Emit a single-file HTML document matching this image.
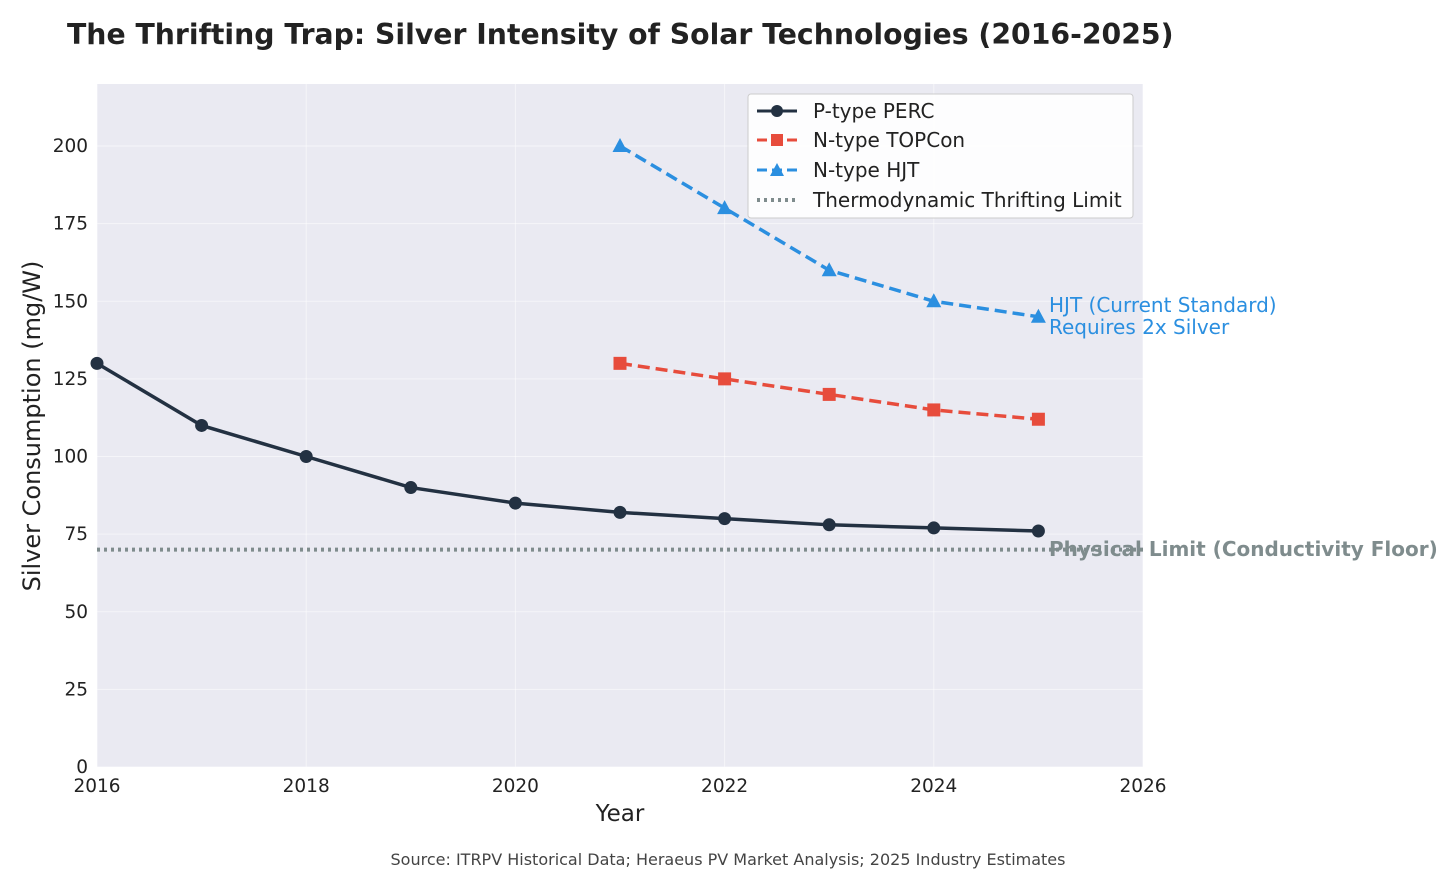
<!DOCTYPE html>
<html><head><meta charset="utf-8"><style>
body{margin:0;background:#fff;font-family:"DejaVu Sans","Liberation Sans",sans-serif}
</style></head><body>
<svg id="chart" width="1456" height="874" xmlns="http://www.w3.org/2000/svg" font-family="DejaVu Sans, Liberation Sans, sans-serif">
<rect width="1456" height="874" fill="#fff"/>
<text x="67" y="44" font-size="28.3" font-weight="bold" fill="#222">The Thrifting Trap: Silver Intensity of Solar Technologies (2016-2025)</text>
<rect x="97" y="84" width="1046" height="683" fill="#eaeaf2"/>
<g id="grid"></g><g id="ticks"></g><g id="series"></g>
<text x="620" y="821" font-size="23" text-anchor="middle" fill="#222">Year</text>
<text transform="translate(40,426) rotate(-90)" font-size="24" text-anchor="middle" fill="#222">Silver Consumption (mg/W)</text>
<text x="1049" y="312" font-size="20" fill="#2b8fe0">HJT (Current Standard)</text>
<text x="1049" y="334" font-size="20" fill="#2b8fe0">Requires 2x Silver</text>
<text x="1049" y="556" font-size="20" font-weight="bold" fill="#7f8c8d">Physical Limit (Conductivity Floor)</text>
<text x="728" y="865" font-size="16" text-anchor="middle" fill="#444">Source: ITRPV Historical Data; Heraeus PV Market Analysis; 2025 Industry Estimates</text>
<g>
<rect x="748" y="94" width="385" height="124" fill="#fff" fill-opacity="0.9" stroke="#ccc" rx="3"/>
<line x1="757" y1="111" x2="797" y2="111" stroke="#233142" stroke-width="3"/><circle cx="777" cy="111" r="6" fill="#233142"/>
<text x="813" y="118" font-size="20" fill="#222">P-type PERC</text>
<line x1="757" y1="140" x2="797" y2="140" stroke="#e74c3c" stroke-width="3" stroke-dasharray="10,5"/><rect x="771" y="134" width="12" height="12" fill="#e74c3c"/>
<text x="813" y="147" font-size="20" fill="#222">N-type TOPCon</text>
<line x1="757" y1="170" x2="797" y2="170" stroke="#2b8fe0" stroke-width="3" stroke-dasharray="10,5"/><polygon points="777,163 784,176 770,176" fill="#2b8fe0"/>
<text x="813" y="177" font-size="20" fill="#222">N-type HJT</text>
<line x1="757" y1="200" x2="797" y2="200" stroke="#7f8c8d" stroke-width="4" stroke-dasharray="3,4"/>
<text x="813" y="207" font-size="20" fill="#222">Thermodynamic Thrifting Limit</text>
</g>
</svg>
<script>
const years=[2016,2017,2018,2019,2020,2021,2022,2023,2024,2025];
const percValues=[130,110,100,90,85,82,80,78,77,76];
const nYears=[2021,2022,2023,2024,2025];
const topconValues=[130,125,120,115,112];
const hjtValues=[200,180,160,150,145];
const limitValue=70;
const xTicks=[2016,2018,2020,2022,2024,2026];
const yTicks=[0,25,50,75,100,125,150,175,200];
const NS="http://www.w3.org/2000/svg";
const X=v=>97+(v-2016)*104.6;
const Y=v=>767-v*3.105;
function mk(t,a,p){const e=document.createElementNS(NS,t);for(const k in a)e.setAttribute(k,a[k]);p.appendChild(e);return e;}
const grid=document.getElementById('grid'),ticks=document.getElementById('ticks'),ser=document.getElementById('series');
yTicks.forEach(v=>{const l=mk('line',{x1:97,x2:1143,y1:Y(v),y2:Y(v),stroke:'#fff','stroke-width':1,'stroke-opacity':0.5},grid);


const t=mk('text',{x:88,y:Y(v)+6,'font-size':18.5,'text-anchor':'end',fill:'#222'},ticks);t.textContent=v;

});
xTicks.forEach(v=>{const l=mk('line',{x1:X(v),x2:X(v),y1:84,y2:767,stroke:'#fff','stroke-width':1,'stroke-opacity':0.5},grid);


const t=mk('text',{x:X(v),y:792,'font-size':18.5,'text-anchor':'middle',fill:'#222'},ticks);t.textContent=v;

});
const lim=mk('line',{x1:97,x2:1143,y1:Y(limitValue),y2:Y(limitValue),stroke:'#7f8c8d','stroke-width':4,'stroke-dasharray':'3,4'},ser);


function series(xs,ys,color,dash,marker,name){
const p=mk('polyline',{points:xs.map((x,i)=>X(x)+','+Y(ys[i])).join(' '),fill:'none',stroke:color,'stroke-width':3.5,'stroke-dasharray':dash},ser);


xs.forEach((x,i)=>{const cx=X(x),cy=Y(ys[i]);let m;
if(marker==='o')m=mk('circle',{cx,cy,r:6.5,fill:color},ser);
else if(marker==='s')m=mk('rect',{x:cx-6.5,y:cy-6.5,width:13,height:13,fill:color},ser);
else m=mk('polygon',{points:`${cx},${cy-8} ${cx+7.5},${cy+6} ${cx-7.5},${cy+6}`,fill:color},ser);

});}
series(years,percValues,'#233142','none','o','perc');
series(nYears,topconValues,'#e74c3c','12,6','s','topcon');
series(nYears,hjtValues,'#2b8fe0','12,6','^','hjt');
</script>
</body></html>
